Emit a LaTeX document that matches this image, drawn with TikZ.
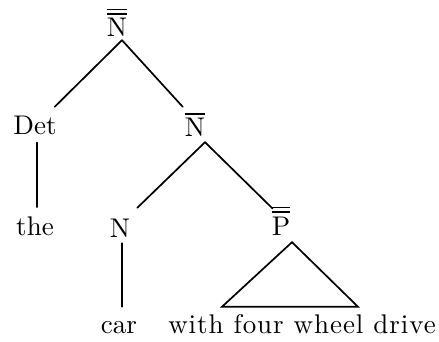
\documentclass[tikz,border=0pt]{standalone}
\usepackage{fontspec}
\setmainfont{lmroman10-regular.otf}
\newcommand\onebar[1]{\vbox{\hrule height 1.6pt\kern 4pt\hbox{#1}}}
\newcommand\twobar[1]{\vbox{\hrule height 1.6pt\kern 2.6pt\hrule height 1.6pt\kern 4pt\hbox{#1}}}
\begin{document}
\begin{tikzpicture}[x=1pt,y=-1pt,
  lbl/.style={inner sep=0pt,anchor=base,font=\fontsize{27}{32}\selectfont},
  edge/.style={line width=1.7pt,line cap=round}]
\useasboundingbox (0,0) rectangle (439,342);
\node[lbl] (top) at (117,37) {\twobar{N}};
\node[lbl] (det) at (35,135) {Det};
\node[lbl] (nbar) at (195,137) {\onebar{N}};
\node[lbl] (the) at (35,235) {the};
\node[lbl] (n) at (120,237) {N};
\node[lbl] (pp) at (281,235) {\twobar{P}};
\node[lbl] (car) at (119,333) {car};
\node[lbl] (with) at (302,333) {\addfontfeatures{LetterSpace=3.5}with four wheel drive};
\draw[edge] ([shift={(5,3)}]top.south) -- ([shift={(-2,-9.6)}]det.north east);
\draw[edge] ([shift={(5,3)}]top.south) -- ([shift={(-2,-6)}]nbar.north west);
\draw[edge] ([shift={(2,7)}]det.south) -- ([shift={(2,-9)}]the.north);
\draw[edge] ([shift={(10,5)}]nbar.south) -- ([shift={(7,-10.6)}]n.north east);
\draw[edge] ([shift={(10,5)}]nbar.south) -- ([shift={(1,2)}]pp.north west);
\draw[edge] ([shift={(2,6)}]n.south) -- ([shift={(3,-14)}]car.north);
\draw[edge,line join=miter] ([shift={(11,7)}]pp.south) -- ([shift={(-80,-7)}]with.north) -- ([shift={(56,-7)}]with.north) -- cycle;
\end{tikzpicture}
\end{document}
